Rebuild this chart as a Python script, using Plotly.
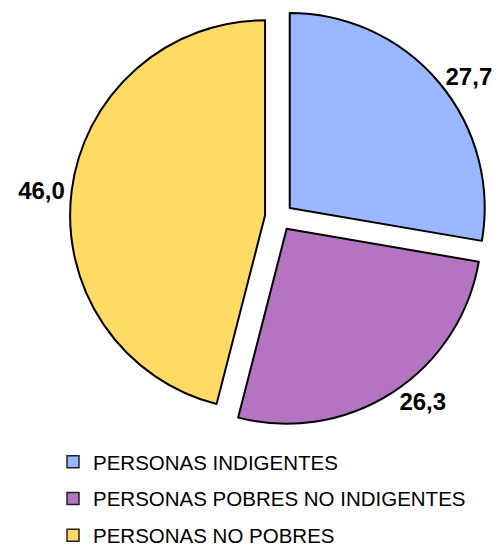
import plotly.graph_objects as go

# Data
labels = ["PERSONAS INDIGENTES", "PERSONAS POBRES NO INDIGENTES", "PERSONAS NO POBRES"]
values = [27.7, 26.3, 46.0]
colors = ["#99B8FF", "#B474C2", "#FFDB66"]

fig = go.Figure()

fig.add_trace(go.Pie(
    labels=labels,
    values=values,
    sort=False,
    direction="clockwise",
    rotation=0,
    pull=[0.072, 0.072, 0.072],
    marker=dict(colors=colors, line=dict(color="black", width=2)),
    texttemplate="%{value:.1f}",
    textposition="outside",
    textfont=dict(family="Liberation Sans", size=24, color="black", weight="bold"),
    showlegend=False,
    hoverinfo="label+value",
    domain=dict(x=[70 / 501, 488 / 501], y=[1 - 426 / 548, 1 - 8 / 548]),
))

# legend entries (one group each so they can be spaced out)
for lab, col in zip(labels, colors):
    fig.add_trace(go.Scatter(
        x=[None], y=[None], mode="markers", name=lab, legendgroup=lab,
        marker=dict(symbol="square", size=12, color=col, line=dict(color="#222", width=1.5)),
    ))

fig.update_layout(
    width=501, height=548,
    margin=dict(l=0, r=0, t=0, b=0, autoexpand=False),
    paper_bgcolor="white", plot_bgcolor="white",
    separators=",.",
    xaxis=dict(visible=False), yaxis=dict(visible=False),
    legend=dict(
        xref="container", yref="container",
        x=53 / 501, xanchor="left", y=1 - 442 / 548, yanchor="top",
        font=dict(family="Liberation Sans", size=20.5, color="black"),
        tracegroupgap=7, bgcolor="rgba(0,0,0,0)",
    ),
)

# page has a default 8px body margin; drop it so the figure fills the window
fig.write_html("out.html", config={"displayModeBar": False},
               post_script="document.body.style.margin='0px';")
